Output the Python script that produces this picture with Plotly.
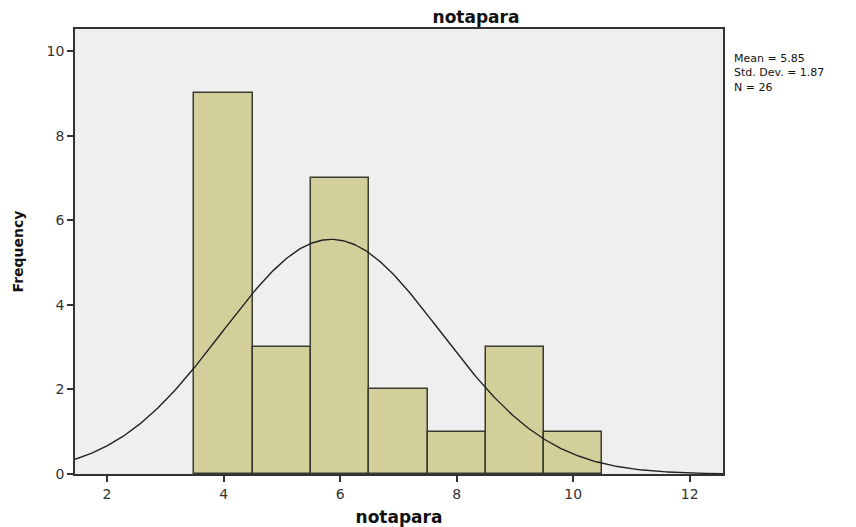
import numpy as np
import plotly.graph_objects as go

bin_centers = [4, 5, 6, 7, 8, 9, 10]
frequencies = [9, 3, 7, 2, 1, 3, 1]
mean_val = 5.85
std_val = 1.87
n_val = 26
stats_lines = ["Mean = 5.85", "Std. Dev. = 1.87", "N = 26"]
x_ticks = [2, 4, 6, 8, 10, 12]
y_ticks = [0, 2, 4, 6, 8, 10]

xs = np.linspace(1.45, 12.57, 400)
ys = n_val * 1.0 * np.exp(-0.5 * ((xs - mean_val) / std_val) ** 2) / (std_val * np.sqrt(2 * np.pi))

# page body has 8px default margin -> shift layout by -8px
OFF = 8
L, T, R, B = 75 - OFF, 29 - OFF, 723 - OFF, 474 - OFF
W, H = 856, 527
FONT = "DejaVu Sans, Arial, sans-serif"

fig = go.Figure()
fig.add_trace(go.Bar(x=bin_centers, y=frequencies, width=1,
                     marker=dict(color="#D3CF9A", line=dict(color="#3a3a30", width=1.5)),
                     showlegend=False, hoverinfo="skip"))
fig.add_trace(go.Scatter(x=xs, y=ys, mode="lines", line=dict(color="#222222", width=1.4),
                         showlegend=False, hoverinfo="skip"))

fig.update_layout(
    width=W, height=H,
    margin=dict(l=L, r=W - R, t=T, b=H - B, autoexpand=False),
    paper_bgcolor="white", plot_bgcolor="#EFEFEF",
    bargap=0,
    font=dict(family=FONT, color="#222222"),
    title=dict(text="<b>notapara</b>", x=(476 - OFF) / W, xanchor="center",
               y=1 - 3 / H, yanchor="top", pad=dict(t=0, b=0),
               font=dict(size=17, color="#111111", family=FONT)),
    xaxis=dict(range=[1.45, 12.57], tickvals=x_ticks, ticks="outside", ticklen=6,
               tickwidth=1.5, tickcolor="#333333", showgrid=False, zeroline=False,
               showline=True, linecolor="#333333", linewidth=1.5, mirror=True,
               automargin=False,
               tickfont=dict(size=14, color="#333333"),
               title=dict(text="<b>notapara</b>", font=dict(size=17, color="#111111"), standoff=11)),
    yaxis=dict(range=[0, 10.52], tickvals=y_ticks, ticks="outside", ticklen=6,
               tickwidth=1.5, tickcolor="#333333", showgrid=False, zeroline=False,
               showline=True, linecolor="#333333", linewidth=1.5, mirror=True,
               automargin=False,
               tickfont=dict(size=14, color="#333333"),
               title=dict(text="<b>Frequency</b>", font=dict(size=14, color="#111111"), standoff=20)),
    annotations=[dict(text="<br>".join(stats_lines), xref="paper", yref="paper",
                      x=1 + (733 - 723) / (R - L), y=1 - (51 - OFF - T) / (B - T),
                      xanchor="left", yanchor="top", align="left", showarrow=False,
                      borderpad=0,
                      font=dict(size=11, color="#111111", family=FONT))],
)

fig.write_html("out.html")
